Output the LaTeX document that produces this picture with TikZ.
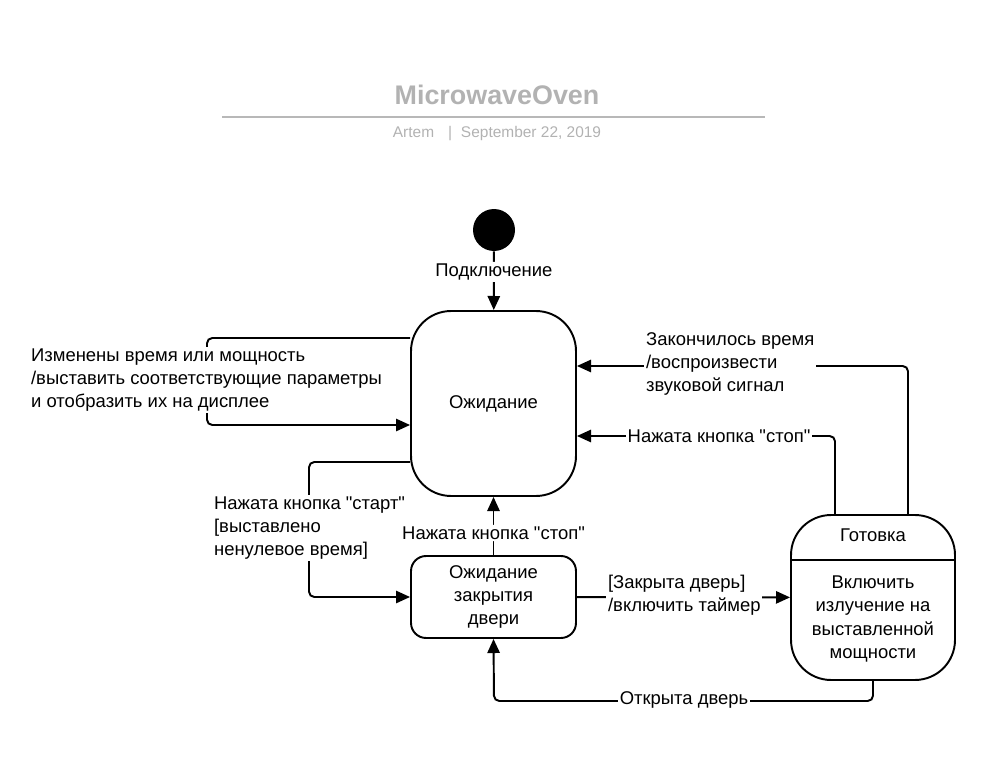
\documentclass[tikz,border=0pt]{standalone}
\usepackage{fontspec}
\setmainfont{Liberation Sans}[Ligatures=TeXOff]
\usetikzlibrary{arrows.meta}

\begin{document}
\begin{tikzpicture}[
        x=0.02cm, y=-0.02cm,
        font=\fontsize{10.5}{13.2}\selectfont,
        state/.style={draw, line width=1.1pt, fill=white, align=center, minimum width=3.3cm},
        bigstate/.style={state, rounded corners=0.8cm, minimum height=3.7cm},
        smallstate/.style={state, rounded corners=0.3cm, minimum height=1.64cm},
        edge/.style={line width=1.1pt, rounded corners=3pt, -{Triangle[length=8pt,width=7pt]}},
        lbl/.style={fill=white, inner sep=1pt},
        gray1/.style={text=black!30}
    ]
        \useasboundingbox (0,0) rectangle (1000,773);

        % header
        \node[gray1, font=\fontsize{15.3}{17}\selectfont\bfseries] (title) at (497,95) {MicrowaveOven};
        \draw[black!28, line width=1.2pt] (222,117) -- (765,117);
        \node[gray1, font=\fontsize{8.8}{10}\selectfont] (author) at (497,134) {Artem\hspace{8pt}|\hspace{5pt}September 22, 2019};

        % states
        \node[circle, fill=black, minimum size=0.84cm, inner sep=0pt] (init) at (494,230) {};
        \node[bigstate] (wait) at (493.5,403.5) {Ожидание};
        \node[smallstate] (doorwait) at (493.5,597) {Ожидание\\закрытия\\двери};
        \node[state, rounded corners=0.8cm, minimum width=3.28cm, minimum height=3.3cm] (cook) at (873,597.5) {};
        \node (cooktitle) at (873,535) {Готовка};
        \node[align=center] (cookdo) at (873,619) {Включить\\излучение на\\выставленной\\мощности};
        \draw[line width=1.1pt] (cook.west |- 0,560) -- (cook.east |- 0,560);

        % bends
        \coordinate (loopA) at (207,338);
        \coordinate (loopB) at (207,425);
        \coordinate (startA) at (309,462);
        \coordinate (startB) at (309,597);
        \coordinate (openA) at (494,701);
        \coordinate (stopA) at (835,436);
        \coordinate (timeA) at (908,366);

        % transitions
        \draw[edge] (init) -- (wait) node[lbl, pos=0.35] {Подключение};

        \draw[edge] (wait.west |- loopA) -- (loopA) -- (loopB) -- (wait.west |- loopB);
        \node[lbl, align=left, anchor=west] (changed) at (29,380) {Изменены время или мощность\\/выставить соответствующие параметры\\и отобразить их на дисплее};

        \draw[edge] (wait.west |- startA) -- (startA) -- (startB) -- (doorwait.west);
        \node[lbl, align=left, anchor=west] (start) at (212,528) {Нажата кнопка "старт"\\{[}выставлено\\ненулевое время]};

        \draw[edge] (doorwait) -- (wait) node[lbl, pos=0.38] {Нажата кнопка "стоп"};

        \draw[edge] (doorwait) -- (cook);
        \node[lbl, align=left, anchor=west] (closed) at (606,595) {[Закрыта дверь]\\/включить таймер};

        \draw[edge] (cook.south) -- (cook.south |- openA) -- (openA) -- (doorwait.south);
        \node[lbl] (opened) at (684,700) {Открыта дверь};

        \draw[edge] (stopA |- cook.north) -- (stopA) -- (wait.east |- stopA);
        \node[lbl] (stop) at (719,436) {Нажата кнопка "стоп"};

        \draw[edge] (timeA |- cook.north) -- (timeA) -- (wait.east |- timeA);
        \node[lbl, align=left, anchor=west] (timeout) at (644,364) {Закончилось время\\/воспроизвести\\звуковой сигнал};
    \end{tikzpicture}
\end{document}
